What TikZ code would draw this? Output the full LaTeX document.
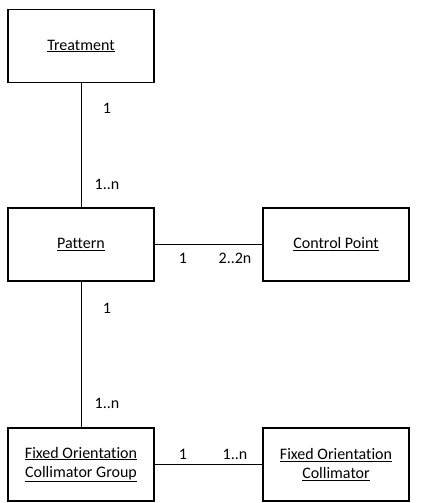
\documentclass[tikz,border=0pt]{standalone}
\usepackage{fontspec}
\setmainfont[Ligatures=NoCommon]{Carlito}
\begin{document}
\begin{tikzpicture}[x=1pt,y=-1pt,
  ent/.style={draw,line width=1.3pt,minimum width=146pt,minimum height=73pt,inner sep=0pt,align=center,font=\fontsize{16}{19.5}\selectfont},
  lab/.style={font=\fontsize{16}{19}\selectfont,inner sep=0pt},
  conn/.style={line width=1pt}]
\useasboundingbox (0,0) rectangle (440,503);
\node[ent] (t) at (81,46) {\underline{Treatment}};
\node[ent] (p) at (81,244.5) {\underline{Pattern}};
\node[ent] (cp) at (336,244.5) {\underline{Control Point}};
\node[ent] (g) at (81,464.5) {\underline{Fixed Orientation}\\\underline{Collimator Group}};
\node[ent] (c) at (336,464.5) {\underline{Fixed Orientation}\\\underline{Collimator}};
\draw[conn] (t) -- (p);
\draw[conn] (p) -- (cp);
\draw[conn] (p) -- (g);
\draw[conn] (g) -- (c);
\node[lab] (l1) at (107,108) {1};
\node[lab] (l2) at (107,184) {1..n};
\node[lab] (l3) at (183,258) {1};
\node[lab] (l4) at (235,258) {2..2n};
\node[lab] (l5) at (107,308) {1};
\node[lab] (l6) at (107,403) {1..n};
\node[lab] (l7) at (183,454) {1};
\node[lab] (l8) at (235,454) {1..n};
\end{tikzpicture}
\end{document}
